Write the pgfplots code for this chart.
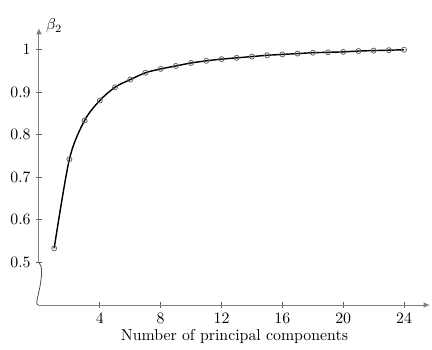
\documentclass[border=0pt]{standalone}
\usepackage{pgfplots}
\pgfplotsset{compat=1.18}
\usetikzlibrary{arrows.meta}
\begin{document}
\begin{tikzpicture}
\begin{axis}[
  name=a,
  scale only axis,
  width=247pt, height=175pt,
  xmin=0, xmax=25.7,
  ymin=0.4, ymax=1.05,
  axis lines=left,
  axis line style={gray, line width=0.6pt},
  x axis line style={-{Latex[length=4pt,width=3.5pt]}},
  y axis line style={draw=none},
  xtick={4,8,12,16,20,24},
  ytick={0.5,0.6,0.7,0.8,0.9,1},
  tick align=center,
  major tick length=3.5pt,
  tick style={gray!70!black, line width=0.5pt},
  xlabel={Number of principal components},
  xlabel style={yshift=3pt},
  ylabel={$\beta_2$},
  ylabel style={rotate=-90, at={(rel axis cs:0,1)}, anchor=south west, xshift=1pt, yshift=-6.5pt},
  clip=false,
]
\addplot[black, line width=0.9pt, smooth, mark=o, mark size=1.6pt,
  mark options={gray!80!black, line width=0.5pt, fill=none}]
  coordinates {
  (1,0.533) (2,0.742) (3,0.833) (4,0.880) (5,0.911) (6,0.929)
  (7,0.945) (8,0.954) (9,0.961) (10,0.968) (11,0.973) (12,0.977)
  (13,0.980) (14,0.983) (15,0.986) (16,0.988) (17,0.990) (18,0.992)
  (19,0.993) (20,0.994) (21,0.996) (22,0.997) (23,0.998) (24,0.999)
  };
\draw[gray, line width=0.6pt, -{Latex[length=4pt,width=3.5pt]}] (axis cs:0,0.5) -- (rel axis cs:0,1);
\draw[gray!60!black, line width=0.5pt] (axis cs:0,0.5) .. controls (axis cs:0.25,0.49) and (axis cs:0.2,0.47) .. (axis cs:0.05,0.44)
  .. controls (axis cs:-0.2,0.4) and (axis cs:-0.2,0.4) .. (axis cs:0,0.4);
\end{axis}
\pgfresetboundingbox
\path ([shift={(-24.6pt,-28.4pt)}]a.south west) rectangle ([shift={(248.3pt,192.7pt)}]a.south west);
\end{tikzpicture}
\end{document}
